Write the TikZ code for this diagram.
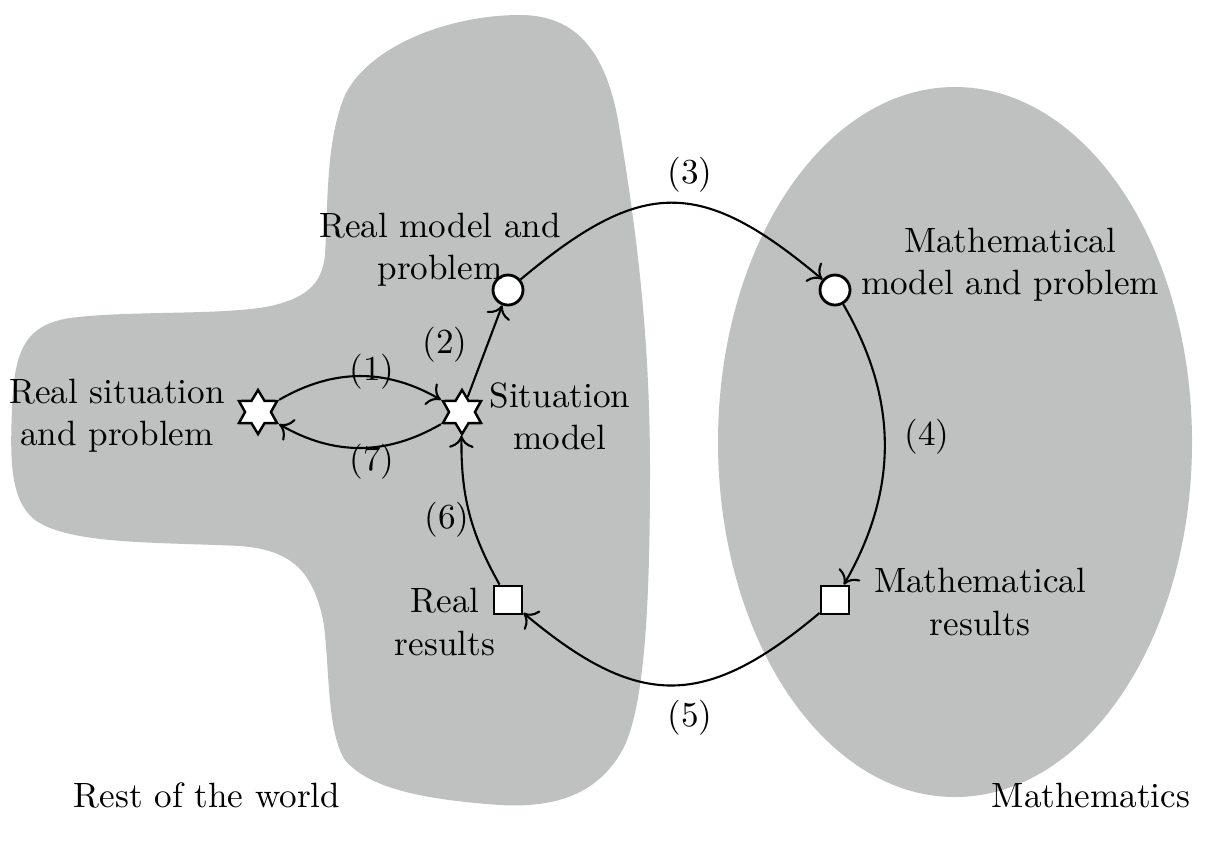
\documentclass[tikz,border=0pt]{standalone}
\usepackage{amsmath}
\usetikzlibrary{shapes.geometric,arrows.meta}

\definecolor{worldgray}{RGB}{191,192,192}

\tikzset{
	flow/.style={-{To[length=3.5pt,width=7pt]},line width=0.6pt},
	starnode/.style={star,star points=6,star point ratio=1.7,minimum size=0.44cm,inner sep=0pt,draw,line width=0.7pt,fill=white},
	roundnode/.style={circle,minimum size=0.3cm,inner sep=0pt,draw,line width=0.8pt,fill=white},
	squarenode/.style={rectangle,minimum size=0.28cm,inner sep=0pt,draw,line width=0.8pt,fill=white},
	txt/.style={align=center,font=\fontsize{10}{12}\selectfont}
}

\begin{document}
\begin{tikzpicture}
	\useasboundingbox (0,0) rectangle (12.16,-8.65);
	\fill[worldgray] (3.25,-2.55) .. controls (3.28,-2.00) and (3.26,-1.40) .. (3.45,-0.95)
		.. controls (3.70,-0.45) and (4.50,-0.15) .. (5.20,-0.15)
		.. controls (5.75,-0.15) and (6.05,-0.50) .. (6.18,-1.20)
		.. controls (6.35,-2.20) and (6.50,-3.30) .. (6.50,-4.70)
		.. controls (6.50,-6.00) and (6.45,-7.00) .. (6.25,-7.45)
		.. controls (6.00,-7.95) and (5.55,-8.08) .. (5.00,-8.05)
		.. controls (4.30,-8.00) and (3.70,-7.90) .. (3.45,-7.60)
		.. controls (3.25,-7.30) and (3.30,-6.50) .. (3.22,-6.15)
		.. controls (3.12,-5.75) and (2.95,-5.50) .. (2.40,-5.46)
		.. controls (1.60,-5.42) and (0.70,-5.45) .. (0.35,-5.20)
		.. controls (0.10,-5.00) and (0.10,-4.60) .. (0.12,-4.10)
		.. controls (0.14,-3.50) and (0.25,-3.25) .. (0.70,-3.18)
		.. controls (1.30,-3.10) and (2.30,-3.16) .. (2.75,-3.05)
		.. controls (3.05,-2.97) and (3.22,-2.85) .. (3.25,-2.55) -- cycle;
	\fill[worldgray] (9.55,-4.42) ellipse (2.37 and 3.55);
	\node[starnode] (rs) at (2.58,-4.12){};
	\node[starnode] (sm) at (4.62,-4.12){};
	\node[roundnode] (rm) at (5.08,-2.90){};
	\node[roundnode] (mm) at (8.35,-2.90){};
	\node[squarenode] (rr) at (5.08,-6.00){};
	\node[squarenode] (mr) at (8.35,-6.00){};
	\node[txt] (rstext) at (1.17,-4.16){Real situation\\and problem};
	\node[txt] (smtext) at (5.60,-4.16){Situation\\model};
	\node[txt] (rmtext) at (4.40,-2.50){Real model and\\problem};
	\node[txt] (mmtext) at (10.10,-2.65){Mathematical\\model and problem};
	\node[txt] (rrtext) at (4.45,-6.22){Real\\results};
	\node[txt] (mrtext) at (9.80,-6.02){Mathematical\\results};
	\node[txt] (world) at (2.07,-7.95){Rest of the world};
	\node[txt] (maths) at (10.91,-7.95){Mathematics};
	\node[txt] (l1) at (3.72,-3.72){(1)};
	\node[txt] (l2) at (4.45,-3.45){(2)};
	\node[txt] (l3) at (6.90,-1.75){(3)};
	\node[txt] (l4) at (9.27,-4.37){(4)};
	\node[txt] (l5) at (6.90,-7.18){(5)};
	\node[txt] (l6) at (4.47,-5.20){(6)};
	\node[txt] (l7) at (3.72,-4.62){(7)};
	\draw[flow] (rs) to[bend left=30] (sm);
	\draw[flow] (sm) to[bend left=30] (rs);
	\draw[flow] (sm) -- (rm);
	\draw[flow] (rm) to[out=40,in=140,looseness=1.35] (mm);
	\draw[flow] (mm) to[bend left=30] (mr);
	\draw[flow] (mr) to[out=220,in=-40,looseness=1.3] (rr);
	\draw[flow] (rr) to[bend left=15] (sm);
\end{tikzpicture}
\end{document}
